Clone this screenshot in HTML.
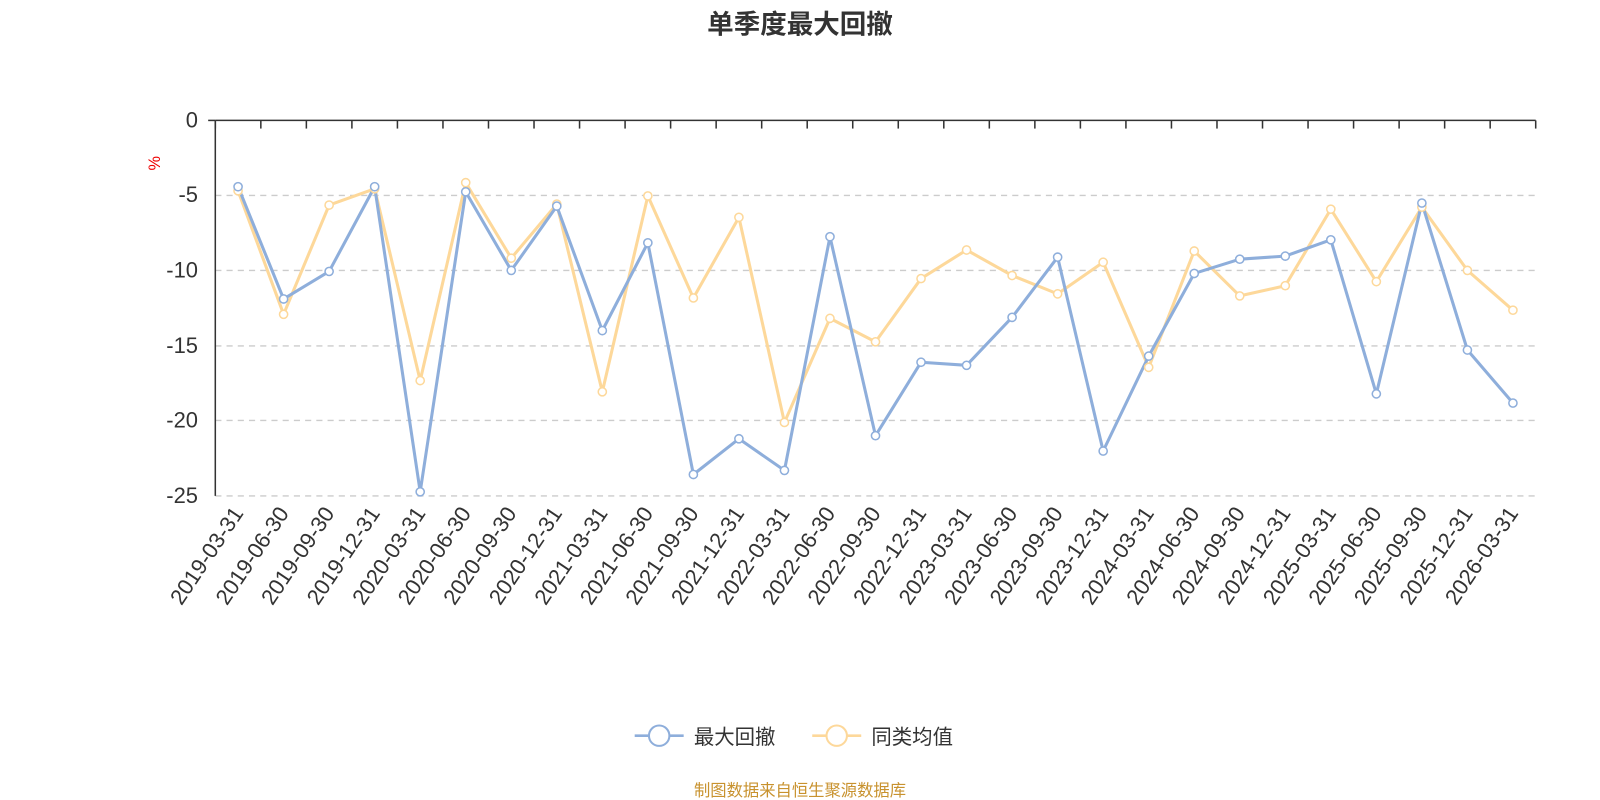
<!DOCTYPE html>
<html><head><meta charset="utf-8"><style>body{margin:0;background:#fff}svg{display:block}</style></head><body>
<svg width="1600" height="800" xmlns="http://www.w3.org/2000/svg" font-family="Liberation Sans, Noto Sans CJK SC, sans-serif">
<g transform="scale(1.0204)">
<text x="784" y="33" text-anchor="middle" font-size="26" font-weight="bold" fill="#333">单季度最大回撤</text>
<text transform="translate(157,160) rotate(-90)" text-anchor="middle" font-size="16" fill="#e00">%</text>
<g stroke="#ccc" stroke-dasharray="6,5" stroke-width="1.3">
<line x1="211" x2="1505" y1="191.5" y2="191.5"/><line x1="211" x2="1505" y1="265" y2="265"/><line x1="211" x2="1505" y1="339" y2="339"/><line x1="211" x2="1505" y1="412" y2="412"/><line x1="211" x2="1505" y1="486" y2="486"/>
</g>
<line x1="211" x2="211" y1="118" y2="486" stroke="#333" stroke-width="1.5"/>
<line x1="204" x2="211" y1="118" y2="118" stroke="#333" stroke-width="1.5"/>
<line x1="211" x2="1505" y1="118" y2="118" stroke="#333" stroke-width="1.5"/>
<g font-size="21.5" fill="#333" text-anchor="end">
<text x="194" y="125">0</text><text x="194" y="198">-5</text><text x="194" y="272">-10</text><text x="194" y="346">-15</text><text x="194" y="419">-20</text><text x="194" y="493">-25</text>
</g>
<g id="ticks" stroke="#333" stroke-width="1.5"></g>
<g id="labels" font-size="21.5" fill="#333" text-anchor="end"></g>
<polyline id="po" fill="none" stroke="#fdd89a" stroke-width="3" stroke-linejoin="round"/>
<polyline id="pb" fill="none" stroke="#8eaedb" stroke-width="3" stroke-linejoin="round"/>
<g id="mo"></g><g id="mb"></g>
<line x1="622" x2="670" y1="721" y2="721" stroke="#8eaedb" stroke-width="2.5"/><circle cx="646" cy="721" r="10" fill="#fff" stroke="#8eaedb" stroke-width="2"/>
<text x="680" y="729" font-size="20" fill="#333">最大回撤</text>
<line x1="796" x2="844" y1="721" y2="721" stroke="#fdd89a" stroke-width="2.5"/><circle cx="820" cy="721" r="10" fill="#fff" stroke="#fdd89a" stroke-width="2"/>
<text x="854" y="729" font-size="20" fill="#333">同类均值</text>
<text x="784" y="780" text-anchor="middle" font-size="16" fill="#c8922e">制图数据来自恒生聚源数据库</text>
</g>
</svg>
<script>
var ns="http://www.w3.org/2000/svg";
var L=["2019-03-31","2019-06-30","2019-09-30","2019-12-31","2020-03-31","2020-06-30","2020-09-30","2020-12-31","2021-03-31","2021-06-30","2021-09-30","2021-12-31","2022-03-31","2022-06-30","2022-09-30","2022-12-31","2023-03-31","2023-06-30","2023-09-30","2023-12-31","2024-03-31","2024-06-30","2024-09-30","2024-12-31","2025-03-31","2025-06-30","2025-09-30","2025-12-31","2026-03-31"];
var B=[183,293,266,183,482,188,265,202,324,238,465,430,461,232,427,355,358,311,252,442,349,268,254,251,235,386,199,343,395];
var O=[187,308,201,185,373,179,253,200,384,192,292,213,414,312,335,273,245,270,288,257,360,246,290,280,205,276,203,265,304];
var w=1294/29;
function el(t,a,p){var e=document.createElementNS(ns,t);for(var k in a)e.setAttribute(k,a[k]);document.getElementById(p).appendChild(e);return e;}
for(var i=0;i<=29;i++){var x=211+i*w;el("line",{x1:x,x2:x,y1:118,y2:126},"ticks");}
var pb=[],po=[];
for(var i=0;i<29;i++){var x=211+w*(i+0.5);
var t=el("text",{transform:"translate("+(x+6)+",503) rotate(-56)"},"labels");t.textContent=L[i];
pb.push(x+","+B[i]);po.push(x+","+O[i]);
el("circle",{cx:x,cy:O[i],r:4,fill:"#fff",stroke:"#fdd89a","stroke-width":1.5},"mo");
el("circle",{cx:x,cy:B[i],r:4,fill:"#fff",stroke:"#8eaedb","stroke-width":1.5},"mb");}
document.getElementById("pb").setAttribute("points",pb.join(" "));
document.getElementById("po").setAttribute("points",po.join(" "));
</script>
</body></html>
